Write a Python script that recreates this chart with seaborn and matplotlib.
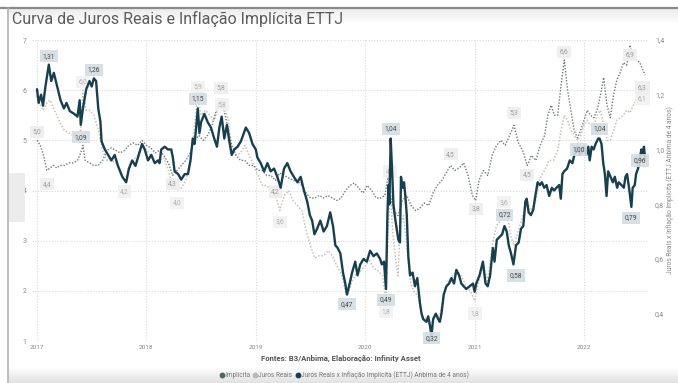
import numpy as np
import pandas as pd
import matplotlib
matplotlib.use("Agg")
import matplotlib.pyplot as plt
from matplotlib.lines import Line2D
import seaborn as sns

# ---------------- data ----------------
ratio_t = [2017.000, 2017.015, 2017.037, 2017.055, 2017.077, 2017.108, 2017.130, 2017.154, 2017.185, 2017.215,
           2017.246, 2017.270, 2017.300, 2017.340, 2017.370, 2017.390, 2017.400, 2017.420, 2017.450, 2017.480,
           2017.500, 2017.520, 2017.540, 2017.560, 2017.580, 2017.590, 2017.620, 2017.650, 2017.680, 2017.710,
           2017.740, 2017.780, 2017.815, 2017.840, 2017.870, 2017.900, 2017.930, 2017.960, 2017.985, 2018.015,
           2018.045, 2018.076, 2018.106, 2018.120, 2018.136, 2018.167, 2018.197, 2018.227, 2018.242, 2018.258,
           2018.290, 2018.318, 2018.350, 2018.380, 2018.403, 2018.424, 2018.440, 2018.455, 2018.470, 2018.485,
           2018.500, 2018.530, 2018.560, 2018.590, 2018.620, 2018.645, 2018.667, 2018.688, 2018.712, 2018.736,
           2018.758, 2018.780, 2018.803, 2018.833, 2018.864, 2018.909, 2018.939, 2018.970, 2019.000, 2019.015,
           2019.045, 2019.076, 2019.106, 2019.136, 2019.167, 2019.197, 2019.227, 2019.258, 2019.288, 2019.318,
           2019.348, 2019.380, 2019.410, 2019.440, 2019.470, 2019.494, 2019.515, 2019.536, 2019.560, 2019.590,
           2019.620, 2019.650, 2019.680, 2019.706, 2019.727, 2019.748, 2019.773, 2019.797, 2019.818, 2019.833,
           2019.858, 2019.880, 2019.909, 2019.930, 2019.955, 2019.985, 2020.015, 2020.030, 2020.045, 2020.076,
           2020.106, 2020.136, 2020.152, 2020.172, 2020.190, 2020.203, 2020.212, 2020.221, 2020.233, 2020.245,
           2020.258, 2020.273, 2020.288, 2020.303, 2020.318, 2020.327, 2020.342, 2020.355, 2020.367, 2020.380,
           2020.394, 2020.410, 2020.433, 2020.455, 2020.476, 2020.500, 2020.515, 2020.530, 2020.560, 2020.576,
           2020.590, 2020.606, 2020.621, 2020.645, 2020.667, 2020.682, 2020.697, 2020.718, 2020.742, 2020.767,
           2020.788, 2020.812, 2020.833, 2020.858, 2020.879, 2020.900, 2020.924, 2020.955, 2020.985, 2021.000,
           2021.015, 2021.045, 2021.076, 2021.100, 2021.120, 2021.142, 2021.167, 2021.182, 2021.203, 2021.227,
           2021.252, 2021.273, 2021.294, 2021.312, 2021.333, 2021.355, 2021.379, 2021.403, 2021.424, 2021.445,
           2021.464, 2021.476, 2021.494, 2021.515, 2021.536, 2021.555, 2021.576, 2021.597, 2021.615, 2021.636,
           2021.658, 2021.682, 2021.706, 2021.727, 2021.748, 2021.773, 2021.788, 2021.803, 2021.818, 2021.845,
           2021.870, 2021.894, 2021.912, 2021.936, 2021.950, 2021.962, 2021.980, 2022.000, 2022.021, 2022.040,
           2022.052, 2022.070, 2022.088, 2022.106, 2022.130, 2022.142, 2022.160, 2022.176, 2022.191, 2022.206,
           2022.221, 2022.242, 2022.264, 2022.282, 2022.303, 2022.318, 2022.342, 2022.364, 2022.379, 2022.394,
           2022.415, 2022.433, 2022.445, 2022.464, 2022.476, 2022.494, 2022.512, 2022.524, 2022.536, 2022.548,
           2022.560]
ratio_v = [1.22, 1.17, 1.20, 1.16, 1.23, 1.31, 1.25, 1.28, 1.23, 1.18,
           1.15, 1.17, 1.14, 1.13, 1.12, 1.18, 1.09, 1.15, 1.22, 1.25,
           1.23, 1.26, 1.25, 1.15, 1.10, 1.03, 1.00, 0.98, 0.96, 0.98,
           0.94, 0.90, 0.88, 0.93, 0.96, 0.94, 0.98, 1.02, 1.00, 0.96,
           0.98, 0.95, 0.96, 0.95, 1.00, 1.01, 1.00, 1.00, 0.97, 0.92,
           0.91, 0.89, 0.91, 0.91, 0.96, 1.04, 1.02, 1.08, 1.15, 1.06,
           1.10, 1.13, 1.10, 1.08, 1.04, 1.01, 1.08, 1.12, 1.04, 1.09,
           1.03, 0.98, 1.00, 1.01, 1.03, 1.08, 1.06, 1.02, 1.00, 0.97,
           0.95, 0.92, 0.95, 0.92, 0.93, 0.90, 0.86, 0.93, 0.95, 0.92,
           0.90, 0.88, 0.90, 0.85, 0.81, 0.76, 0.74, 0.69, 0.71, 0.74,
           0.70, 0.72, 0.77, 0.72, 0.65, 0.64, 0.62, 0.55, 0.51, 0.47,
           0.51, 0.55, 0.59, 0.54, 0.58, 0.60, 0.59, 0.61, 0.63, 0.61,
           0.62, 0.60, 0.58, 0.59, 0.49, 0.76, 0.87, 0.80, 1.04, 0.93,
           0.80, 0.75, 0.71, 0.67, 0.66, 0.90, 0.86, 0.88, 0.83, 0.76,
           0.61, 0.54, 0.55, 0.50, 0.53, 0.44, 0.40, 0.38, 0.37, 0.39,
           0.36, 0.32, 0.38, 0.40, 0.38, 0.37, 0.40, 0.47, 0.50, 0.51,
           0.53, 0.51, 0.56, 0.54, 0.51, 0.50, 0.49, 0.50, 0.51, 0.48,
           0.51, 0.54, 0.59, 0.51, 0.50, 0.54, 0.64, 0.59, 0.67, 0.68,
           0.69, 0.72, 0.70, 0.65, 0.62, 0.58, 0.65, 0.66, 0.71, 0.72,
           0.81, 0.82, 0.77, 0.76, 0.78, 0.83, 0.88, 0.87, 0.88, 0.86,
           0.87, 0.83, 0.86, 0.85, 0.86, 0.87, 0.82, 0.91, 0.92, 0.93,
           0.96, 0.95, 0.98, 1.01, 1.00, 0.98, 0.99, 1.01, 0.98, 1.01,
           0.96, 1.01, 1.00, 1.02, 1.04, 1.04, 1.02, 0.95, 0.91, 0.83,
           0.92, 0.90, 0.88, 0.90, 0.86, 0.88, 0.87, 0.86, 0.90, 0.91,
           0.85, 0.79, 0.86, 0.87, 0.91, 0.93, 0.97, 1.00, 0.98, 1.01,
           0.96]

imp_t = [2017.00, 2017.03, 2017.06, 2017.09, 2017.12, 2017.15, 2017.18, 2017.21, 2017.25, 2017.29,
         2017.33, 2017.37, 2017.40, 2017.42, 2017.44, 2017.48, 2017.52, 2017.56, 2017.60, 2017.64,
         2017.68, 2017.72, 2017.76, 2017.80, 2017.84, 2017.88, 2017.92, 2017.96, 2018.00, 2018.04,
         2018.08, 2018.12, 2018.16, 2018.20, 2018.24, 2018.28, 2018.32, 2018.36, 2018.40, 2018.44,
         2018.48, 2018.52, 2018.56, 2018.60, 2018.64, 2018.68, 2018.71, 2018.74, 2018.78, 2018.82,
         2018.86, 2018.90, 2018.94, 2018.98, 2019.02, 2019.06, 2019.10, 2019.14, 2019.18, 2019.22,
         2019.26, 2019.30, 2019.34, 2019.38, 2019.42, 2019.46, 2019.50, 2019.54, 2019.58, 2019.62,
         2019.66, 2019.70, 2019.74, 2019.78, 2019.82, 2019.86, 2019.90, 2019.94, 2019.98, 2020.02,
         2020.06, 2020.10, 2020.14, 2020.18, 2020.21, 2020.23, 2020.26, 2020.30, 2020.34, 2020.38,
         2020.42, 2020.46, 2020.50, 2020.54, 2020.58, 2020.62, 2020.66, 2020.70, 2020.74, 2020.78,
         2020.82, 2020.86, 2020.90, 2020.94, 2020.98, 2021.01, 2021.04, 2021.08, 2021.12, 2021.16,
         2021.20, 2021.24, 2021.28, 2021.32, 2021.36, 2021.40, 2021.44, 2021.48, 2021.52, 2021.56,
         2021.60, 2021.64, 2021.67, 2021.70, 2021.73, 2021.76, 2021.79, 2021.82, 2021.85, 2021.88,
         2021.91, 2021.94, 2021.97, 2022.00, 2022.03, 2022.06, 2022.09, 2022.12, 2022.15, 2022.18,
         2022.21, 2022.24, 2022.27, 2022.30, 2022.33, 2022.36, 2022.39, 2022.42, 2022.45, 2022.48,
         2022.51, 2022.54, 2022.56]
imp_v = [5.0, 4.9, 4.7, 4.4, 4.45, 4.5, 4.45, 4.5, 4.5, 4.55,
         4.55, 4.6, 4.75, 4.9, 4.6, 4.55, 4.5, 4.5, 4.6, 4.8,
         4.85, 4.8, 4.75, 4.8, 4.9, 4.95, 4.9, 5.0, 4.9, 4.85,
         4.75, 4.8, 4.7, 4.55, 4.3, 4.4, 4.5, 4.6, 4.75, 5.0,
         5.1, 5.0, 5.1, 5.3, 5.6, 5.8, 5.6, 5.3, 4.9, 4.7,
         4.6, 4.6, 4.5, 4.5, 4.4, 4.4, 4.3, 4.3, 4.2, 4.35,
         4.3, 4.25, 4.2, 4.2, 4.1, 3.95, 3.85, 3.85, 3.9, 3.85,
         3.9, 3.85, 3.8, 3.85, 4.0, 4.1, 4.15, 4.05, 3.95, 4.1,
         4.0, 3.85, 3.85, 3.9, 4.3, 3.9, 3.6, 3.5, 3.8, 3.9,
         3.7, 3.6, 3.65, 3.75, 3.7, 3.95, 4.1, 4.2, 4.35, 4.5,
         4.4, 4.45, 4.55, 4.3, 3.9, 3.8, 4.2, 4.4, 4.3, 4.7,
         4.9, 5.0, 4.9, 5.1, 5.3, 4.95, 4.8, 4.5, 4.7, 4.6,
         4.9, 5.1, 5.5, 5.7, 5.5, 5.5, 6.1, 6.6, 6.0, 5.6,
         5.2, 5.05, 5.2, 5.4, 5.6, 5.5, 5.45, 5.6, 5.9, 6.25,
         5.7, 5.45, 5.9, 6.2, 6.35, 6.55, 6.5, 6.9, 6.65, 6.6,
         6.55, 6.4, 6.3]

jr_t = [2017.00, 2017.03, 2017.06, 2017.09, 2017.12, 2017.15, 2017.18, 2017.21, 2017.25, 2017.29,
        2017.33, 2017.37, 2017.40, 2017.42, 2017.45, 2017.48, 2017.52, 2017.56, 2017.60, 2017.64,
        2017.68, 2017.72, 2017.76, 2017.80, 2017.84, 2017.88, 2017.92, 2017.96, 2018.00, 2018.04,
        2018.08, 2018.12, 2018.16, 2018.20, 2018.24, 2018.28, 2018.32, 2018.36, 2018.40, 2018.44,
        2018.47, 2018.50, 2018.54, 2018.58, 2018.62, 2018.66, 2018.69, 2018.72, 2018.75, 2018.78,
        2018.82, 2018.86, 2018.90, 2018.94, 2018.98, 2019.02, 2019.06, 2019.10, 2019.14, 2019.18,
        2019.22, 2019.26, 2019.30, 2019.34, 2019.38, 2019.42, 2019.46, 2019.50, 2019.54, 2019.58,
        2019.62, 2019.66, 2019.70, 2019.74, 2019.78, 2019.82, 2019.84, 2019.88, 2019.92, 2019.96,
        2020.00, 2020.04, 2020.08, 2020.12, 2020.16, 2020.19, 2020.21, 2020.23, 2020.25, 2020.28,
        2020.30, 2020.32, 2020.35, 2020.38, 2020.41, 2020.44, 2020.48, 2020.52, 2020.56, 2020.60,
        2020.64, 2020.68, 2020.72, 2020.76, 2020.80, 2020.84, 2020.88, 2020.92, 2020.96, 2021.00,
        2021.04, 2021.08, 2021.12, 2021.16, 2021.20, 2021.24, 2021.27, 2021.30, 2021.33, 2021.36,
        2021.40, 2021.44, 2021.48, 2021.52, 2021.56, 2021.60, 2021.64, 2021.68, 2021.72, 2021.76,
        2021.79, 2021.82, 2021.85, 2021.88, 2021.91, 2021.94, 2021.97, 2022.00, 2022.03, 2022.06,
        2022.09, 2022.12, 2022.15, 2022.18, 2022.21, 2022.24, 2022.27, 2022.30, 2022.33, 2022.36,
        2022.39, 2022.42, 2022.45, 2022.48, 2022.51, 2022.54, 2022.56]
jr_v = [5.9, 5.7, 5.6, 5.75, 5.8, 5.65, 5.5, 5.35, 5.2, 5.15,
        5.1, 5.15, 5.2, 6.0, 5.6, 5.6, 5.5, 5.2, 4.8, 4.6,
        4.6, 4.55, 4.4, 4.2, 4.4, 4.6, 4.7, 4.9, 4.8, 4.7,
        4.55, 4.6, 4.65, 4.4, 4.1, 4.0, 4.05, 4.2, 4.6, 5.3,
        5.9, 5.5, 5.6, 5.5, 5.4, 5.7, 5.8, 5.6, 5.4, 4.8,
        4.7, 4.75, 4.9, 4.7, 4.5, 4.3, 4.1, 4.1, 4.0, 3.9,
        3.6, 3.9, 4.0, 3.8, 3.7, 3.6, 3.2, 2.9, 2.65, 2.7,
        2.7, 2.8, 2.7, 2.5, 2.35, 2.0, 1.9, 2.2, 2.35, 2.4,
        2.5, 2.6, 2.45, 2.4, 2.3, 1.8, 3.2, 4.1, 3.2, 2.6,
        2.3, 3.3, 3.5, 2.9, 2.2, 2.0, 1.9, 1.5, 1.45, 1.3,
        1.5, 1.5, 1.9, 2.2, 2.3, 2.4, 2.3, 2.1, 2.0, 1.8,
        2.2, 2.5, 2.2, 2.9, 3.3, 3.4, 3.6, 3.5, 3.1, 2.9,
        3.2, 3.5, 3.75, 3.6, 3.8, 4.25, 4.4, 4.6, 4.6, 4.8,
        5.2, 5.5, 5.4, 5.2, 5.1, 5.0, 5.1, 5.3, 5.4, 5.3,
        5.3, 5.5, 5.6, 5.3, 5.0, 5.0, 5.2, 5.4, 5.45, 5.5,
        5.6, 5.55, 5.7, 5.8, 6.0, 6.1, 6.1]

year_ticks = [2017, 2018, 2019, 2020, 2021, 2022]
left_ticks = [1, 2, 3, 4, 5, 6, 7]
right_ticks = [0.4, 0.6, 0.8, 1.0, 1.2, 1.4]

series_names = ["Implícita", "Juros Reais", "Juros Reais x Inflação Implícita (ETTJ) Anbima de 4 anos)"]

# labels: (time, dx pts, dy pts)
ratio_labels = [(2017.108, 0, 6), (2017.520, 0, 6), (2017.400, 0, -9), (2018.470, 0, 7),
                (2019.833, 0, -7), (2020.190, 0, -8), (2020.233, 0, 7), (2020.606, 0, -2),
                (2021.273, 0, 8), (2021.355, 2, -8), (2022.433, 0, -8), (2022.560, -4, 0),
                (2022.142, 0, 7), (2021.950, 0, 0)]
imp_labels = [(2017.00, 0, 6), (2017.09, 0, -10), (2018.24, 0, -6), (2018.68, 0, 9),
              (2019.18, 0, -8), (2020.78, 0, 8), (2021.01, 0, -6), (2021.36, 0, 9),
              (2021.48, 0, -7), (2021.82, 0, 6), (2022.42, 0, -7), (2022.56, -2, -9)]
jr_labels = [(2017.42, 0, 6), (2017.80, 0, -8), (2018.28, 0, -9), (2018.47, 0, 6),
             (2018.69, 0, -3), (2019.22, 0, -8), (2020.23, 0, 10), (2020.19, 0, -8),
             (2021.00, 0, -9), (2021.27, 0, 6), (2022.56, -2, -10)]

# ---------------- style ----------------
sns.set_theme(style="white")
plt.rcParams["font.family"] = ["Roboto", "DejaVu Sans"]

C_RATIO = "#173f4e"
C_IMP = "#6f7a7a"
C_JR = "#c9c1b5"
GRID = "#d9d9d9"

W, H = 678, 383
fig = plt.figure(figsize=(W / 100, H / 100), dpi=100)
fig.patch.set_facecolor("white")

L, R, T, B = 32, 648, 40, 341
ax = fig.add_axes([L / W, 1 - B / H, (R - L) / W, (B - T) / H])
ax2 = ax.twinx()

df_imp = pd.DataFrame({"t": imp_t, "v": imp_v})
df_jr = pd.DataFrame({"t": jr_t, "v": jr_v})
df_ratio = pd.DataFrame({"t": ratio_t, "v": ratio_v})

sns.lineplot(data=df_jr, x="t", y="v", ax=ax, color=C_JR, lw=1.1, linestyle=(0, (1, 1.2)), zorder=2)
sns.lineplot(data=df_imp, x="t", y="v", ax=ax, color=C_IMP, lw=1.0, linestyle=(0, (1, 1.2)), zorder=3)
sns.lineplot(data=df_ratio, x="t", y="v", ax=ax2, color=C_RATIO, lw=1.7, zorder=4)

x0 = 2017 - 5 / 109.4
x1 = 2022 + (R - 584) / 109.4
ax.set_xlim(x0, x1)
ax.set_ylim(1, 7)
ax2.set_ylim(0.3, 1.4)

for a in (ax, ax2):
    for s in a.spines.values():
        s.set_visible(False)
    a.set_xlabel("")
    a.set_ylabel("")

ax.set_xticks(year_ticks)
ax.set_xticklabels([str(y) for y in year_ticks], fontsize=4.6, color="#888888")
ax.set_yticks(left_ticks)
ax.set_yticklabels([str(v) for v in left_ticks], fontsize=5, color="#888888")
ax2.set_yticks(right_ticks)
ax2.set_yticklabels([f"{v:.1f}".replace(".", ",") for v in right_ticks], fontsize=5, color="#888888")
ax.tick_params(axis="both", length=0, pad=4)
ax2.tick_params(axis="y", length=0, pad=5)
ax.tick_params(axis="x", pad=3)

ax.grid(True, axis="both", color=GRID, lw=0.8, linestyle=(0, (1, 1.5)))
ax2.grid(False)

ax2.set_ylabel("Juros Reais x Inflação Implícita (ETTJ Anbima de 4 anos)", fontsize=4.8,
               color="#888888", labelpad=1.5)

def fmt(v, nd):
    return f"{v:.{nd}f}".replace(".", ",")

def put_labels(a, t_list, v_list, labels, nd, fc, tc, z):
    tt = np.asarray(t_list)
    for (t0, dx, dy) in labels:
        i = int(np.argmin(np.abs(tt - t0)))
        a.annotate(fmt(v_list[i], nd), xy=(t_list[i], v_list[i]), xytext=(dx, dy),
                   textcoords="offset points", ha="center", va="center", fontsize=4.8,
                   color=tc, zorder=z,
                   bbox=dict(boxstyle="square,pad=0.4", fc=fc, ec="none", alpha=0.9))

put_labels(ax, imp_t, imp_v, imp_labels, 1, "#eeeeee", "#9a9a9a", 6)
put_labels(ax, jr_t, jr_v, jr_labels, 1, "#f1f1f1", "#b0b0b0", 6)
put_labels(ax2, ratio_t, ratio_v, ratio_labels, 2, "#d5dde3", "#444444", 7)

# title
fig.text(12 / W, 1 - 19 / H, "Curva de Juros Reais e Inflação Implícita ETTJ",
         fontsize=11.5, color="#5b5b5b", va="center", ha="left")

# source
fig.text(341 / W, 1 - 358 / H, "Fontes: B3/Anbima, Elaboração: Infinity Asset",
         fontsize=5.6, color="#555555", ha="center", va="center", fontweight="bold")

# legend
handles = [Line2D([], [], marker="o", ls="", color=c, markersize=3.2)
           for c in ("#4e6868", "#b9b9b9", C_RATIO)]
fig.legend(handles, series_names, loc="center", bbox_to_anchor=(344 / W, 1 - 375 / H),
           ncol=3, frameon=False, fontsize=4.7, handletextpad=0.05, columnspacing=0.4,
           labelcolor="#777777", borderaxespad=0, handlelength=0.8)

# frame of the screenshot
fig.add_artist(Line2D([0, 1], [1 - 8 / H, 1 - 8 / H], transform=fig.transFigure,
                      color="#8a8a8a", lw=1.6))
fig.add_artist(Line2D([8 / W, 8 / W], [0, 1 - 8 / H], transform=fig.transFigure,
                      color="#b0b0b0", lw=1.2))
fig.patches.append(plt.Rectangle((9 / W, 1 - 222 / H), 16 / W, 49 / H, transform=fig.transFigure,
                                 fc="#ececec", ec="none"))
grad = np.linspace(0, 1, 50).reshape(-1, 1)
gax = fig.add_axes([9 / W, 0, 1 - 9 / W, 16 / H])
gax.imshow(grad, aspect="auto", cmap=matplotlib.colors.LinearSegmentedColormap.from_list(
    "g", ["#ffffff", "#e2e2e2"]), origin="upper")
gax.axis("off")
tax = fig.add_axes([9 / W, 1 - 24 / H, 1 - 9 / W, 15 / H], zorder=-1)
tax.imshow(grad[::-1], aspect="auto", cmap=matplotlib.colors.LinearSegmentedColormap.from_list(
    "g2", ["#ffffff", "#ececec"]), origin="upper")
tax.axis("off")

fig.savefig("out.png", dpi=100, facecolor="white")
